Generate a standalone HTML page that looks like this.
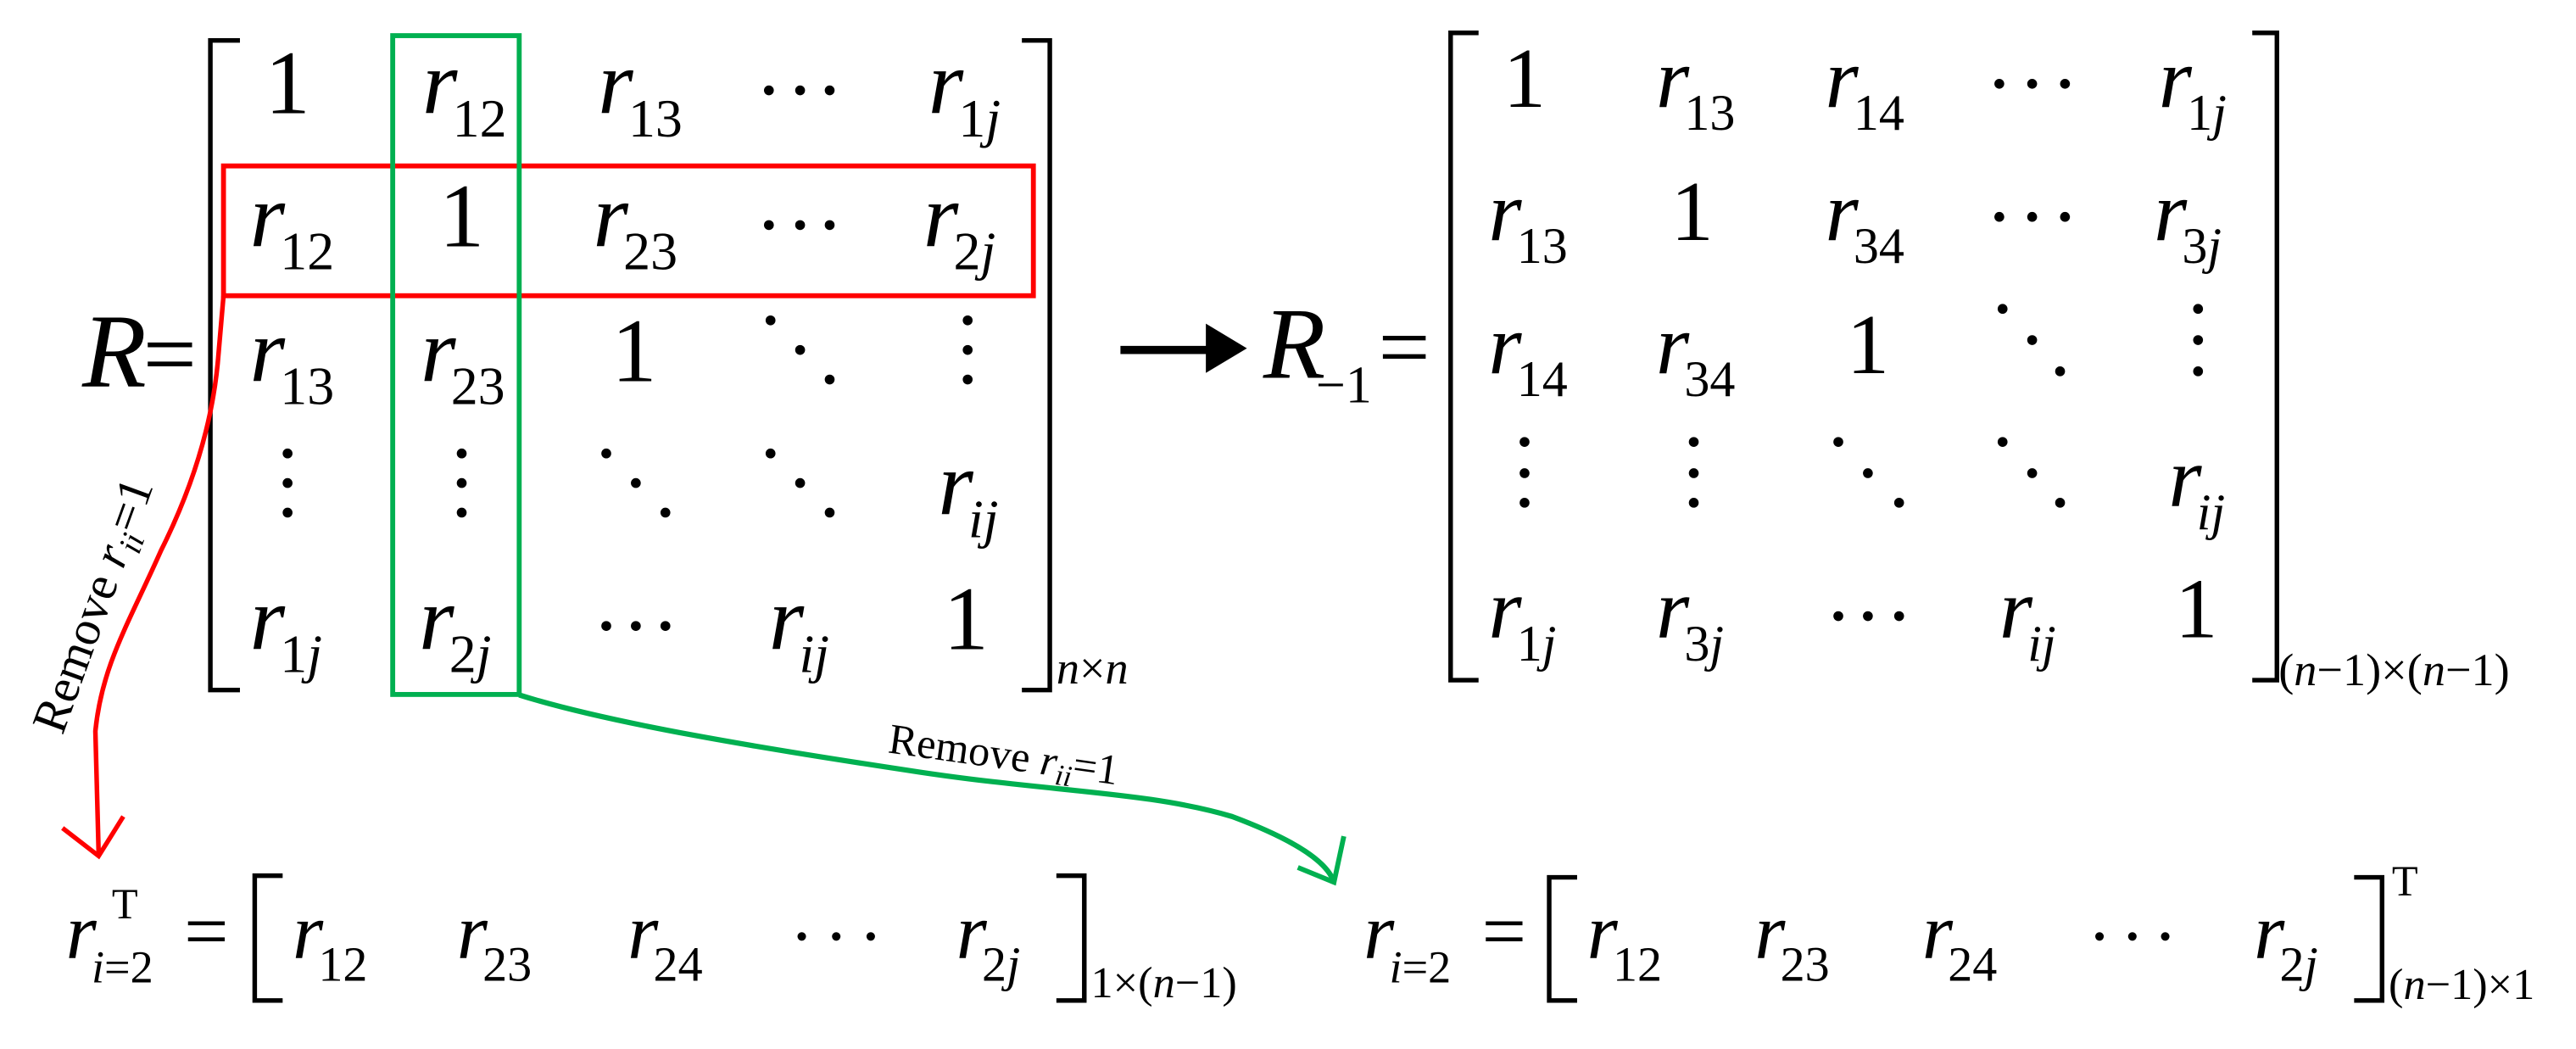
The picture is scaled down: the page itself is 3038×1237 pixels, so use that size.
<!DOCTYPE html>
<html><head><meta charset="utf-8"><style>
html,body{margin:0;padding:0;background:#fff;}
svg{display:block;}
svg, svg text, svg tspan{font-family:"Liberation Serif","Times New Roman","DejaVu Serif",serif;}
text{fill:#000;}
.i{font-style:italic;}
</style></head><body>
<svg width="3038" height="1237" viewBox="0 0 1568 638.5" xmlns="http://www.w3.org/2000/svg" font-family="Liberation Serif, Times New Roman, DejaVu Serif, serif">
<g stroke="#000" stroke-width="2.8" fill="none">
<polyline points="146,24.6 128,24.6 128,420 146,420"/>
<polyline points="622,24.6 639,24.6 639,420 622,420"/>
<polyline points="900,20 883,20 883,414 900,414"/>
<polyline points="1371,20 1386,20 1386,414 1371,414"/>
<polyline points="172,533 155,533 155,609 172,609"/>
<polyline points="643,533 660,533 660,609 643,609"/>
<polyline points="960,534 943,534 943,609 960,609"/>
<polyline points="1433,534 1450,534 1450,609 1433,609"/>
</g>
<rect x="136" y="101" width="493" height="79" fill="none" stroke="#ff0000" stroke-width="3"/>
<rect x="239" y="21.7" width="77" height="401" fill="none" stroke="#00b050" stroke-width="3"/>
<path d="M136,180 L133,215 C130,255 118,295 98,335 C78,380 62,405 58,445 L60,520" fill="none" stroke="#ff0000" stroke-width="2.8"/>
<polyline points="38,504 60,521 75,497" fill="none" stroke="#ff0000" stroke-width="2.8"/>
<path d="M316,423 C370,440 460,455 560,470 C640,482 700,482 750,497 C790,512 808,525 812,537" fill="none" stroke="#00b050" stroke-width="3.2"/>
<polyline points="790,528 812,537 818,509" fill="none" stroke="#00b050" stroke-width="3"/>
<line x1="682" y1="213" x2="740" y2="213" stroke="#000" stroke-width="5"/>
<polygon points="734,197 759,212 734,227" fill="#000"/>

<text transform="translate(38,448) rotate(-70)" font-size="30">Remove <tspan class="i">r</tspan><tspan class="i" font-size="20" dy="6">ii</tspan><tspan dy="-6">=1</tspan></text>
<text transform="translate(540,458) rotate(8)" font-size="26">Remove <tspan class="i">r</tspan><tspan class="i" font-size="18" dy="5">ii</tspan><tspan dy="-5">=1</tspan></text>

<text x="50" y="235" font-size="64" class="i">R</text>
<text x="87" y="235" font-size="58">=</text>

<g font-size="55">
<text x="175" y="69" text-anchor="middle">1</text>
<text x="257" y="69" class="i">r<tspan font-size="33" dy="14" dx="-3" font-style="normal">12</tspan></text>
<text x="364" y="69" class="i">r<tspan font-size="33" dy="14" dx="-3" font-style="normal">13</tspan></text>
<text x="565" y="69" class="i">r<tspan font-size="33" dy="14" dx="-3" font-style="normal">1</tspan><tspan font-size="33">j</tspan></text>

<text x="152" y="150" class="i">r<tspan font-size="33" dy="14" dx="-3" font-style="normal">12</tspan></text>
<text x="281" y="150" text-anchor="middle">1</text>
<text x="361" y="150" class="i">r<tspan font-size="33" dy="14" dx="-3" font-style="normal">23</tspan></text>
<text x="562" y="150" class="i">r<tspan font-size="33" dy="14" dx="-3" font-style="normal">2</tspan><tspan font-size="33">j</tspan></text>

<text x="152" y="232" class="i">r<tspan font-size="33" dy="14" dx="-3" font-style="normal">13</tspan></text>
<text x="256" y="232" class="i">r<tspan font-size="33" dy="14" dx="-3" font-style="normal">23</tspan></text>
<text x="386" y="232" text-anchor="middle">1</text>

<text x="571" y="313" class="i">r<tspan font-size="33" dy="14" dx="-3">ij</tspan></text>

<text x="152" y="395" class="i">r<tspan font-size="33" dy="14" dx="-3" font-style="normal">1</tspan><tspan font-size="33">j</tspan></text>
<text x="255" y="395" class="i">r<tspan font-size="33" dy="14" dx="-3" font-style="normal">2</tspan><tspan font-size="33">j</tspan></text>
<text x="468" y="395" class="i">r<tspan font-size="33" dy="14" dx="-3">ij</tspan></text>
<text x="588" y="395" text-anchor="middle">1</text>
</g>
<g fill="#000">
<circle cx="468" cy="55" r="3"/><circle cx="487" cy="55" r="3"/><circle cx="505" cy="55" r="3"/>
<circle cx="468" cy="137" r="3"/><circle cx="487" cy="137" r="3"/><circle cx="505" cy="137" r="3"/>
<circle cx="469" cy="195" r="3"/><circle cx="487" cy="213" r="3"/><circle cx="505" cy="231" r="3"/>
<circle cx="589" cy="195" r="3"/><circle cx="589" cy="213" r="3"/><circle cx="589" cy="231" r="3"/>
<circle cx="175" cy="276" r="3"/><circle cx="175" cy="294" r="3"/><circle cx="175" cy="312" r="3"/>
<circle cx="281" cy="276" r="3"/><circle cx="281" cy="294" r="3"/><circle cx="281" cy="312" r="3"/>
<circle cx="369" cy="276" r="3"/><circle cx="387" cy="294" r="3"/><circle cx="405" cy="312" r="3"/>
<circle cx="469" cy="276" r="3"/><circle cx="487" cy="294" r="3"/><circle cx="505" cy="312" r="3"/>
<circle cx="369" cy="381" r="3"/><circle cx="387" cy="381" r="3"/><circle cx="405" cy="381" r="3"/>
</g>
<text x="643" y="416" font-size="28"><tspan class="i">n</tspan>×<tspan class="i">n</tspan></text>

<text x="769" y="230" font-size="62" class="i">R</text>
<text x="801" y="245" font-size="32">−1</text>
<text x="839" y="230" font-size="56">=</text>

<g font-size="52">
<text x="928" y="65" text-anchor="middle">1</text>
<text x="1008" y="65" class="i">r<tspan font-size="31" dy="14" dx="-3" font-style="normal">13</tspan></text>
<text x="1111" y="65" class="i">r<tspan font-size="31" dy="14" dx="-3" font-style="normal">14</tspan></text>
<text x="1314" y="65" class="i">r<tspan font-size="31" dy="14" dx="-3" font-style="normal">1</tspan><tspan font-size="31">j</tspan></text>

<text x="906" y="146" class="i">r<tspan font-size="31" dy="14" dx="-3" font-style="normal">13</tspan></text>
<text x="1030" y="146" text-anchor="middle">1</text>
<text x="1111" y="146" class="i">r<tspan font-size="31" dy="14" dx="-3" font-style="normal">34</tspan></text>
<text x="1311" y="146" class="i">r<tspan font-size="31" dy="14" dx="-3" font-style="normal">3</tspan><tspan font-size="31">j</tspan></text>

<text x="906" y="227" class="i">r<tspan font-size="31" dy="14" dx="-3" font-style="normal">14</tspan></text>
<text x="1008" y="227" class="i">r<tspan font-size="31" dy="14" dx="-3" font-style="normal">34</tspan></text>
<text x="1137" y="227" text-anchor="middle">1</text>

<text x="1320" y="308" class="i">r<tspan font-size="31" dy="14" dx="-3">ij</tspan></text>

<text x="906" y="388" class="i">r<tspan font-size="31" dy="14" dx="-3" font-style="normal">1</tspan><tspan font-size="31">j</tspan></text>
<text x="1008" y="388" class="i">r<tspan font-size="31" dy="14" dx="-3" font-style="normal">3</tspan><tspan font-size="31">j</tspan></text>
<text x="1217" y="388" class="i">r<tspan font-size="31" dy="14" dx="-3">ij</tspan></text>
<text x="1337" y="388" text-anchor="middle">1</text>
</g>
<g fill="#000">
<circle cx="1217" cy="51" r="3"/><circle cx="1237" cy="51" r="3"/><circle cx="1257" cy="51" r="3"/>
<circle cx="1217" cy="132" r="3"/><circle cx="1237" cy="132" r="3"/><circle cx="1257" cy="132" r="3"/>
<circle cx="1219" cy="188" r="3"/><circle cx="1237" cy="207" r="3"/><circle cx="1254" cy="226" r="3"/>
<circle cx="1338" cy="188" r="3"/><circle cx="1338" cy="207" r="3"/><circle cx="1338" cy="226" r="3"/>
<circle cx="928" cy="269" r="3"/><circle cx="928" cy="288" r="3"/><circle cx="928" cy="306" r="3"/>
<circle cx="1031" cy="269" r="3"/><circle cx="1031" cy="288" r="3"/><circle cx="1031" cy="306" r="3"/>
<circle cx="1119" cy="269" r="3"/><circle cx="1137" cy="288" r="3"/><circle cx="1156" cy="306" r="3"/>
<circle cx="1219" cy="269" r="3"/><circle cx="1237" cy="288" r="3"/><circle cx="1254" cy="306" r="3"/>
<circle cx="1119" cy="375" r="3"/><circle cx="1137" cy="375" r="3"/><circle cx="1156" cy="375" r="3"/>
</g>
<text x="1387" y="417" font-size="28">(<tspan class="i">n</tspan>−1)×(<tspan class="i">n</tspan>−1)</text>

<g font-size="48">
<text x="40" y="583" class="i">r<tspan font-size="28" dy="15" dx="-3">i</tspan><tspan font-size="28" font-style="normal">=2</tspan></text>
<text x="68" y="559" font-size="26">T</text>
<text x="112" y="583">=</text>
<text x="178" y="583" class="i">r<tspan font-size="30" dy="14" dx="-3" font-style="normal">12</tspan></text>
<text x="278" y="583" class="i">r<tspan font-size="30" dy="14" dx="-3" font-style="normal">23</tspan></text>
<text x="382" y="583" class="i">r<tspan font-size="30" dy="14" dx="-3" font-style="normal">24</tspan></text>
<text x="582" y="583" class="i">r<tspan font-size="30" dy="14" dx="-3" font-style="normal">2</tspan><tspan font-size="30">j</tspan></text>

<text x="830" y="583" class="i">r<tspan font-size="28" dy="15" dx="-3">i</tspan><tspan font-size="28" font-style="normal">=2</tspan></text>
<text x="902" y="583">=</text>
<text x="966" y="583" class="i">r<tspan font-size="30" dy="14" dx="-3" font-style="normal">12</tspan></text>
<text x="1068" y="583" class="i">r<tspan font-size="30" dy="14" dx="-3" font-style="normal">23</tspan></text>
<text x="1170" y="583" class="i">r<tspan font-size="30" dy="14" dx="-3" font-style="normal">24</tspan></text>
<text x="1372" y="583" class="i">r<tspan font-size="30" dy="14" dx="-3" font-style="normal">2</tspan><tspan font-size="30">j</tspan></text>
<text x="1456" y="545" font-size="26">T</text>
</g>
<g fill="#000">
<circle cx="488" cy="570" r="2.6"/><circle cx="509" cy="570" r="2.6"/><circle cx="530" cy="570" r="2.6"/>
<circle cx="1278" cy="570" r="2.6"/><circle cx="1298" cy="570" r="2.6"/><circle cx="1318" cy="570" r="2.6"/>
</g>
<text x="664" y="607" font-size="27">1×(<tspan class="i">n</tspan>−1)</text>
<text x="1454" y="608" font-size="27">(<tspan class="i">n</tspan>−1)×1</text>
</svg>
</body></html>
